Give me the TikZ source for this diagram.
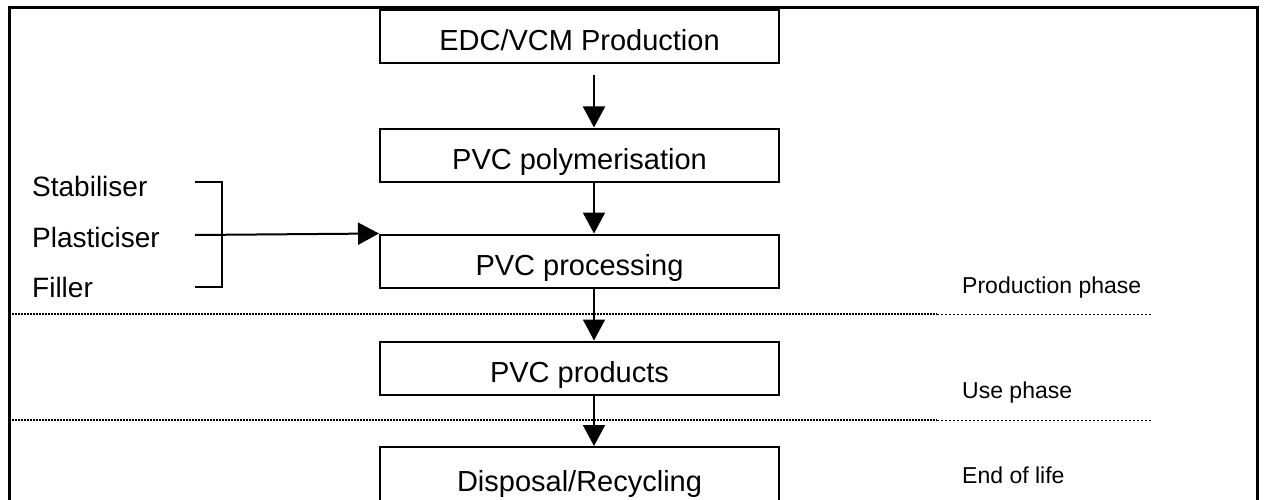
\documentclass[tikz,border=0pt]{standalone}
\usepackage{fontspec}
\setmainfont{Liberation Sans}
\usetikzlibrary{arrows.meta}
\tikzset{
  stagebox/.style={draw, line width=2pt, minimum width=399pt, minimum height=53pt, inner sep=0pt,
    text height=29pt, text depth=0pt, font=\fontsize{29}{35}\selectfont},
  sidelabel/.style={anchor=west, inner sep=0pt, font=\fontsize{28}{34}\selectfont},
  phaselabel/.style={anchor=west, inner sep=0pt, font=\fontsize{23}{28}\selectfont},
  flowarrow/.style={line width=2pt, -{Triangle[length=21pt,width=22pt]}},
  bracketline/.style={line width=2pt},
  denseline/.style={line width=1.7pt, dash pattern=on 1.5pt off 1.5pt},
  looseline/.style={line width=1pt, dash pattern=on 2pt off 2pt},
  framebox/.style={line width=3pt}
}
\begin{document}
\begin{tikzpicture}[x=1pt,y=-1pt]
\useasboundingbox (0,0) rectangle (1265,500);
% frame
\draw[framebox] (9,505) -- (9,8) -- (1257,8) -- (1257,505);
% boxes
\node[stagebox] (edc)  at (579.5,36.5) {EDC/VCM Production};
\node[stagebox] (poly) at (579.5,155) {PVC polymerisation};
\node[stagebox] (proc) at (579.5,261) {PVC processing};
\node[stagebox] (prod) at (579.5,368) {PVC products};
\node[stagebox, minimum height=60pt] (disp) at (579.5,477) {Disposal/Recycling};
% arrows
\draw[flowarrow, shorten <=11pt] ([xshift=14.5pt]edc.south) -- ([xshift=14.5pt]poly.north);
\draw[flowarrow] ([xshift=14.5pt]poly.south) -- ([xshift=14.5pt]proc.north);
\draw[flowarrow] ([xshift=14.5pt]proc.south) -- ([xshift=14.5pt]prod.north);
\draw[flowarrow] ([xshift=14.5pt]prod.south) -- ([xshift=14.5pt]disp.north);
% side inputs
\node[sidelabel] (stab) at (32,186) {Stabiliser};
\node[sidelabel] (plas) at (32,237) {Plasticiser};
\node[sidelabel] (fill) at (32,287) {Filler};
\coordinate (b1) at (195,182);
\coordinate (b2) at (195,235);
\coordinate (b3) at (195,287);
\coordinate (v1) at (222,182);
\coordinate (v3) at (222,287);
\draw[bracketline] (b1) -- (v1) -- (v3) -- (b3);
\draw[flowarrow] (b2) -- (proc.north west);
% phase separators
\coordinate (d1a) at (9,314);
\coordinate (d1b) at (937,314);
\coordinate (d1c) at (1152,314);
\coordinate (d2a) at (9,420);
\coordinate (d2b) at (937,420);
\coordinate (d2c) at (1152,420);
\draw[denseline] (d1a) -- (d1b);
\draw[looseline] (d1b) -- (d1c);
\draw[denseline] (d2a) -- (d2b);
\draw[looseline] (d2b) -- (d2c);
% phase labels
\node[phaselabel] (pp) at (962,288) {Production phase};
\node[phaselabel] (up) at (962,393) {Use phase};
\node[phaselabel] (el) at (962,475) {End of life};
\end{tikzpicture}
\end{document}
